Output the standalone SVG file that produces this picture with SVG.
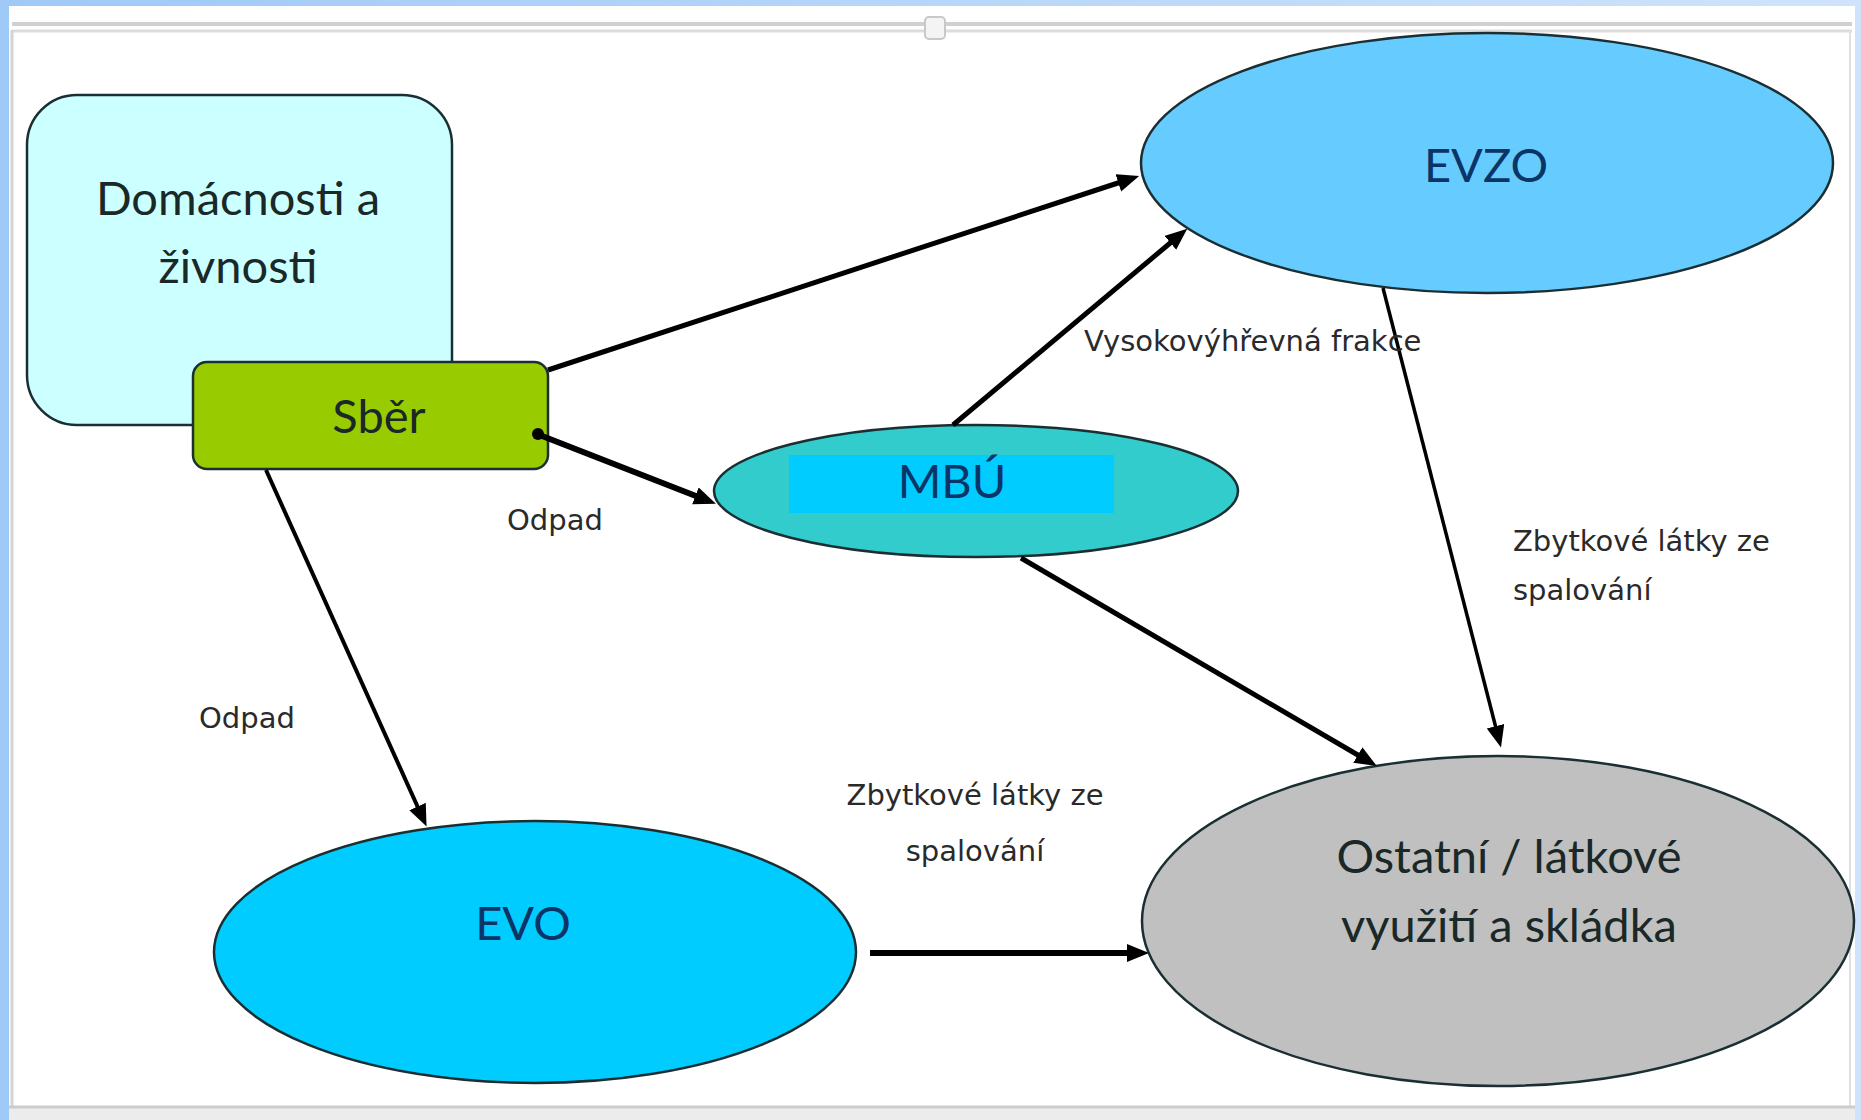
<svg xmlns="http://www.w3.org/2000/svg" width="1861" height="1120" viewBox="0 0 1861 1120">
<defs>
<linearGradient id="bg" x1="0" y1="0" x2="1" y2="0">
<stop offset="0" stop-color="#9fc9f7"/>
<stop offset="1" stop-color="#cfe3fb"/>
</linearGradient>
<marker id="ah" markerUnits="userSpaceOnUse" markerWidth="24" markerHeight="20" refX="6" refY="9" orient="auto">
<path d="M0,0 L22,9 L0,18 z" fill="#000"/>
</marker>
</defs>
<style>
.main{font-family:Lato,"Open Sans","Liberation Sans",sans-serif;font-size:47px;text-anchor:middle}
.dark{fill:#1a2828}
.navy{fill:#0b3566}
.small{font-family:"DejaVu Sans","Liberation Sans",sans-serif;font-size:29px;fill:#2a2a2a}
.node{stroke:#1b2f33;stroke-width:2.5}
.conn line{stroke:#000;fill:none;marker-end:url(#ah)}
</style>
<rect x="0" y="0" width="1861" height="1120" fill="url(#bg)"/>
<rect x="9" y="6" width="1846" height="1114" fill="#ffffff"/>
<g id="frame" fill="none">
<line x1="12" y1="24" x2="1852" y2="24" stroke="#d0d0d0" stroke-width="4"/>
<line x1="12" y1="31" x2="1852" y2="31" stroke="#dcdcdc" stroke-width="3"/>
<line x1="12" y1="30" x2="12" y2="1106" stroke="#d4d4d4" stroke-width="3"/>
<line x1="1850" y1="30" x2="1850" y2="1106" stroke="#e0e0e0" stroke-width="2"/>
<rect x="925" y="17" width="20" height="22" rx="4" fill="#f4f4f4" stroke="#c8c8c8" stroke-width="2"/>
<rect x="9" y="1106" width="1846" height="14" fill="#ececec"/>
<line x1="9" y1="1107" x2="1855" y2="1107" stroke="#cccccc" stroke-width="3"/>
</g>
<g id="node-domacnosti">
<rect class="node" x="27" y="95" width="425" height="330" rx="50" fill="#ccffff"/>
<text class="main dark" x="238" y="215">Domácnosti a</text>
<text class="main dark" x="238" y="283">živnosti</text>
</g>
<g id="node-sber">
<rect class="node" x="193" y="362" width="355" height="107" rx="14" fill="#99cc00"/>
<text class="main dark" x="379" y="433">Sběr</text>
</g>
<g id="node-evzo">
<ellipse class="node" cx="1487" cy="163" rx="346" ry="130" fill="#66ccff"/>
<text class="main navy" x="1486" y="182">EVZO</text>
</g>
<g id="node-mbu">
<ellipse class="node" cx="976" cy="491" rx="262" ry="66" fill="#33cccc"/>
<rect x="789" y="455" width="325" height="58" fill="#00ccff"/>
<text class="main navy" x="952" y="498">MBÚ</text>
</g>
<g id="node-evo">
<ellipse class="node" cx="535" cy="952" rx="321" ry="131" fill="#00ccff"/>
<text class="main navy" x="523" y="940">EVO</text>
</g>
<g id="node-ostatni">
<ellipse class="node" cx="1498" cy="921" rx="356" ry="165" fill="#c0c0c0"/>
<text class="main dark" x="1509" y="873">Ostatní / látkové</text>
<text class="main dark" x="1509" y="942">využití a skládka</text>
</g>
<g id="connectors" class="conn">
<line x1="548" y1="370" x2="1124" y2="181" stroke-width="5"/>
<circle cx="538" cy="434" r="6" fill="#000"/>
<line x1="537" y1="434" x2="701" y2="498" stroke-width="6"/>
<line x1="953" y1="425" x2="1175" y2="239" stroke-width="5"/>
<line x1="1383" y1="288" x2="1497" y2="732" stroke-width="3.5"/>
<line x1="1021" y1="558" x2="1363" y2="758" stroke-width="5"/>
<line x1="266" y1="470" x2="420" y2="812" stroke-width="4"/>
<line x1="870" y1="953" x2="1133" y2="953" stroke-width="6"/>
</g>
<g id="labels">
<text class="small" x="1084" y="351">Vysokovýhřevná frakce</text>
<text class="small" x="507" y="530">Odpad</text>
<text class="small" x="199" y="728">Odpad</text>
<text class="small" x="1513" y="551">Zbytkové látky ze</text>
<text class="small" x="1513" y="600">spalování</text>
<text class="small" x="975" y="805" text-anchor="middle">Zbytkové látky ze</text>
<text class="small" x="975" y="861" text-anchor="middle">spalování</text>
</g>
</svg>
